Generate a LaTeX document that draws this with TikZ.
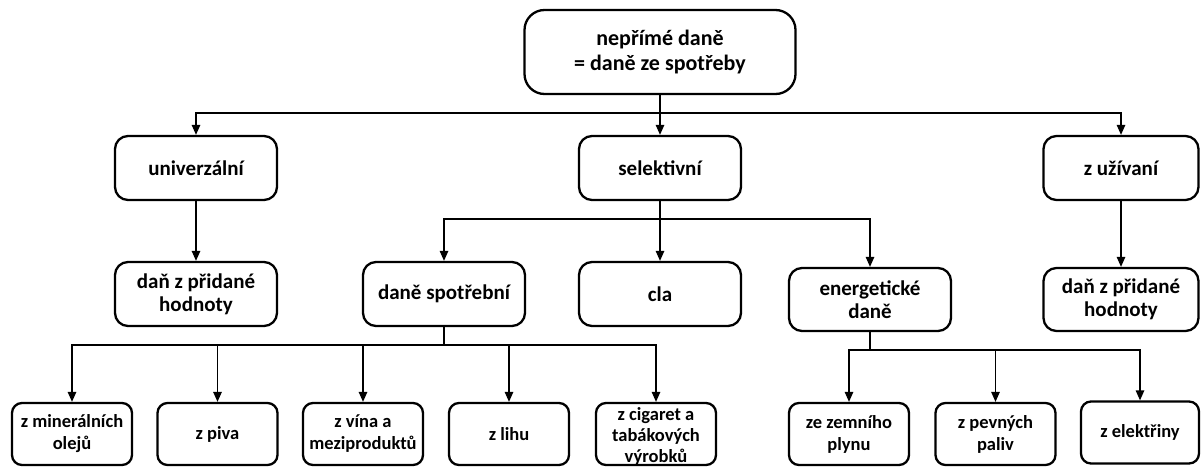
\documentclass[tikz,border=0pt]{standalone}
\usepackage{fontspec}
\setmainfont{Carlito}
\usetikzlibrary{arrows.meta}
\begin{document}
\begin{tikzpicture}[x=1pt,y=-1pt,
  box/.style={draw, line width=2.3pt, rounded corners=13pt, align=center,
    font=\bfseries\fontsize{21}{23}\selectfont, inner sep=0pt,
    minimum height=64pt, minimum width=162pt},
  leaf/.style={box, rounded corners=10pt, minimum width=120pt, minimum height=62pt,
    font=\bfseries\fontsize{18.5}{22}\selectfont},
  leaftext/.style={align=center, inner sep=0pt, font=\bfseries\fontsize{18.5}{21}\selectfont},
  arr/.style={line width=1.3pt, -{Triangle[length=10pt,width=8.5pt]}},
  ln/.style={line width=1.3pt}]
\useasboundingbox (0,0) rectangle (1201,466);
% top
\node[box, minimum width=271pt, minimum height=84pt, rounded corners=20pt,
  font=\bfseries\fontsize{22}{25}\selectfont] (top) at (660,52) {nepřímé daně\\= daně ze spotřeby};
% first row
\node[box] (univ) at (196,168) {univerzální};
\node[box] (sel) at (660,168) {selektivní};
\node[box, minimum width=155pt] (zuz) at (1121,168) {z užívaní};
% second row
\node[box] (dph1) at (196,294) {daň z přidané\\hodnoty};
\node[box] (spotr) at (444,294) {daně spotřební};
\node[box] (cla) at (660,294) {cla};
\node[box, minimum height=63pt] (energ) at (870,299.5) {energetické\\daně};
\node[box, minimum width=155pt, minimum height=63pt] (dph2) at (1121,299.5) {daň z přidané\\hodnoty};
% bottom row
\node[leaf] (zmin) at (72,434) {z minerálních\\olejů};
\node[leaf] (zpiva) at (217.5,434) {z piva};
\node[leaf] (zvina) at (363,434) {z vína a\\meziproduktů};
\node[leaf] (zlihu) at (509,434) {z lihu};
\node[leaf] (zcig) at (656,434) {};
\node[leaftext, anchor=north] (zcigt) at (656,407) {z cigaret a\\tabákových\\výrobků};
\node[leaf] (zemni) at (849,434) {ze zemního\\plynu};
\node[leaf] (pevn) at (995.5,434) {z pevných\\paliv};
\node[leaf, minimum width=118pt] (elek) at (1140,432.5) {z elektřiny};
% connectors
\coordinate (j1) at (660,113);
\coordinate (j2) at (660,219);
\coordinate (j3) at (444,345);
\coordinate (j4) at (870,350);
\draw[arr] (top.south) -- (sel.north);
\draw[arr] (j1) -| (univ.north);
\draw[arr] (j1) -| (zuz.north);
\draw[arr] (univ.south) -- (dph1.north);
\draw[arr] (zuz.south) -- (dph2.north);
\draw[arr] (sel.south) -- (cla.north);
\draw[arr] (j2) -| (spotr.north);
\draw[arr] (j2) -| (energ.north);
\draw[ln] (spotr.south) -- (j3);
\draw[arr] (j3) -| (zmin.north);
\draw[arr] (j3) -| (zpiva.north);
\draw[arr] (j3) -| (zvina.north);
\draw[arr] (j3) -| (zlihu.north);
\draw[arr] (j3) -| (zcig.north);
\draw[ln] (energ.south) -- (j4);
\draw[arr] (j4) -| (zemni.north);
\draw[arr] (j4) -| (pevn.north);
\draw[arr] (j4) -| (elek.north);
\end{tikzpicture}
\end{document}
